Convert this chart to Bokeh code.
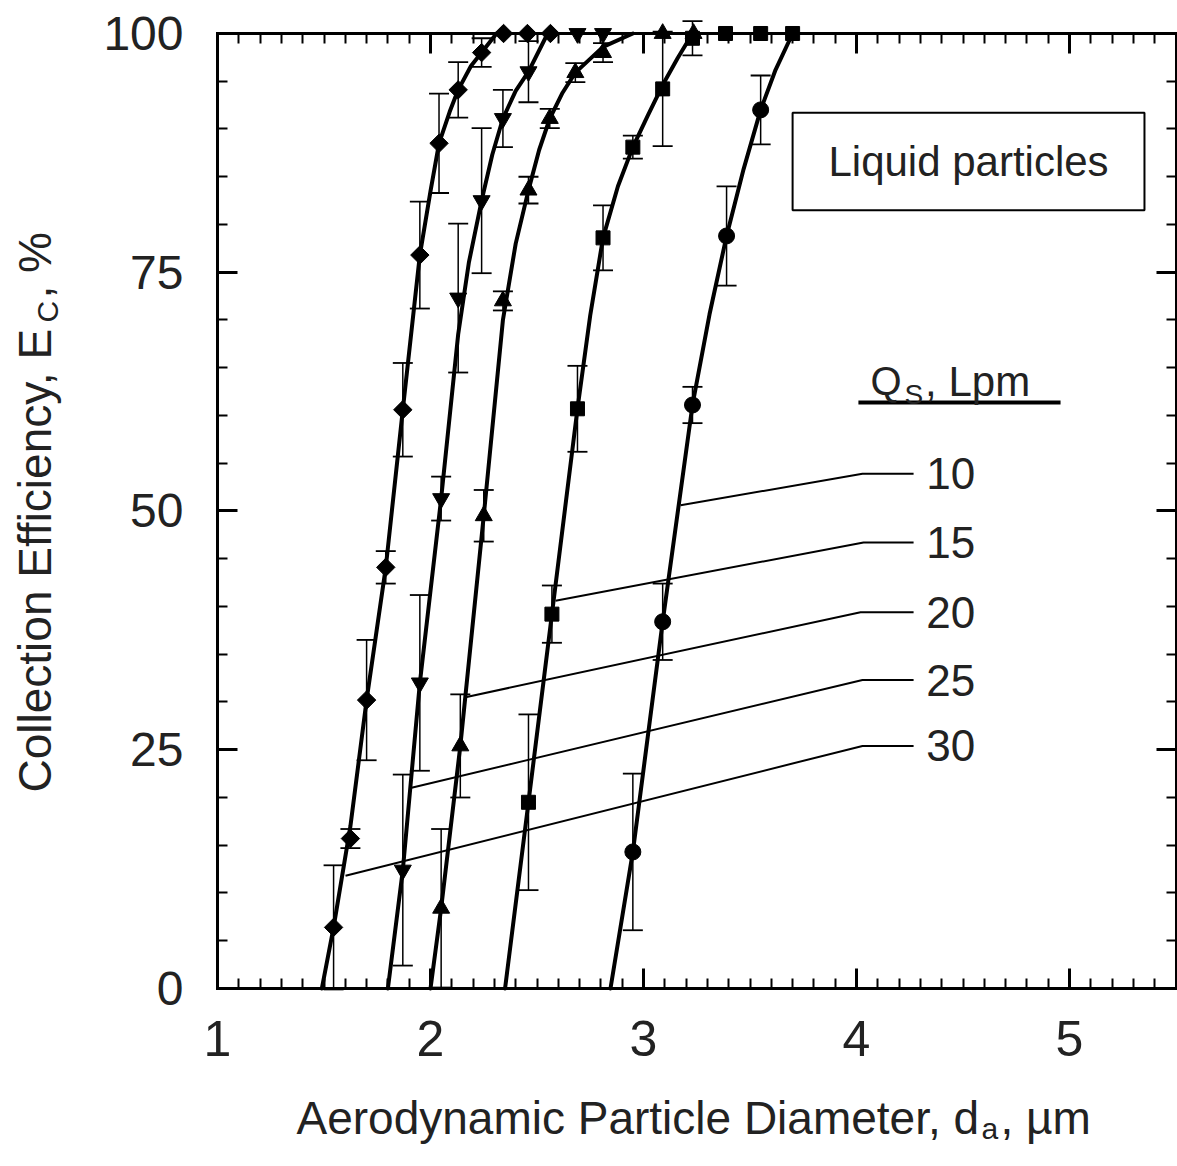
import math
from bokeh.plotting import figure
from bokeh.models import (LinearAxis, SingleIntervalTicker, ColumnDataSource, Whisker,
                          TeeHead, Label, Range1d, CustomJSTickFormatter)
from bokeh.embed import file_html
from bokeh.resources import INLINE

# ---------------- data ----------------
# Q = 30 Lpm (diamonds)
q30_x = [1.545, 1.624, 1.70, 1.79, 1.87, 1.95, 2.04, 2.13, 2.24, 2.343, 2.455, 2.563]
q30_y = [6.4, 15.7, 30.2, 44.1, 60.6, 76.8, 88.5, 94.1, 98.0, 100, 100, 100]
q30_e = [6.5, 1.0, 6.3, 1.7, 4.9, 5.6, 5.2, 2.9, 1.5, 0, 0, 0]
q30_cx = [1.49, 1.545, 1.624, 1.70, 1.79, 1.87, 1.95, 2.00, 2.04, 2.09, 2.13, 2.19, 2.24, 2.31]
q30_cy = [0, 6.4, 17.0, 30.2, 44.1, 60.6, 76.8, 83.5, 88.5, 91.8, 94.1, 96.6, 98.0, 100]

# Q = 25 Lpm (down triangles)
q25_x = [1.87, 1.95, 2.05, 2.13, 2.24, 2.34, 2.46, 2.69, 2.81]
q25_y = [12.4, 32.0, 51.3, 72.3, 82.5, 91.1, 96.0, 100, 100]
q25_e = [10.0, 9.2, 2.3, 7.8, 7.6, 3.0, 3.2, 0, 0]
q25_cx = [1.80, 1.87, 1.95, 2.05, 2.13, 2.18, 2.24, 2.29, 2.34, 2.40, 2.46, 2.55]
q25_cy = [0, 12.4, 32.0, 51.3, 68.5, 76.0, 82.5, 87.3, 91.1, 94.0, 96.0, 100]

# Q = 20 Lpm (up triangles)
q20_x = [2.05, 2.14, 2.25, 2.34, 2.46, 2.56, 2.68, 2.81, 3.09, 3.235]
q20_y = [8.4, 25.4, 49.5, 72.0, 83.6, 91.1, 95.9, 98.0, 100, 100]
q20_e = [8.3, 5.4, 2.7, 1.0, 1.4, 1.0, 1.0, 1.0, 0, 0]
q20_cx = [2.00, 2.05, 2.14, 2.25, 2.34, 2.40, 2.46, 2.51, 2.56, 2.62, 2.68, 2.81, 2.95]
q20_cy = [0, 8.4, 25.4, 49.5, 70.0, 78.0, 83.6, 87.8, 91.1, 93.8, 95.9, 98.6, 100]

# Q = 15 Lpm (squares)
q15_x = [2.46, 2.57, 2.69, 2.81, 2.95, 3.09, 3.23, 3.385, 3.55, 3.70]
q15_y = [19.5, 39.2, 60.7, 78.6, 88.1, 94.2, 99.5, 100, 100, 100]
q15_e = [9.2, 3.0, 4.5, 3.4, 1.2, 6.0, 1.8, 0, 0, 0]
q15_cx = [2.35, 2.46, 2.57, 2.69, 2.75, 2.81, 2.88, 2.95, 3.02, 3.09, 3.16, 3.23]
q15_cy = [0, 19.5, 39.2, 60.7, 70.5, 78.6, 84.0, 88.1, 91.4, 94.6, 97.4, 100]

# Q = 10 Lpm (circles)
q10_x = [2.95, 3.09, 3.23, 3.39, 3.55]
q10_y = [14.3, 38.4, 61.1, 78.8, 92.0]
q10_e = [8.2, 4.0, 1.9, 5.2, 3.6]
q10_cx = [2.845, 2.95, 3.09, 3.23, 3.31, 3.39, 3.47, 3.55, 3.62, 3.70]
q10_cy = [0, 14.3, 38.4, 61.1, 70.6, 78.8, 85.8, 92.0, 96.2, 100]

flow_labels = ["10", "15", "20", "25", "30"]
# leader lines: start on curve -> knee -> end at label
lead_x0 = [3.174, 2.587, 2.164, 1.906, 1.601]
lead_y0 = [50.6, 40.6, 30.5, 21.0, 11.8]
lead_xk = [4.028, 4.033, 4.019, 4.028, 4.028]
lead_yk = [53.9, 46.7, 39.4, 32.3, 25.4]
lead_x1 = 4.268

X_MIN, X_MAX = 1.0, 5.5
Y_MIN, Y_MAX = 0.0, 100.0

# ---------------- figure ----------------
# the frame spans the whole canvas; the four axes sit at fixed data locations
p = figure(x_range=Range1d(-0.01878, 5.50704), y_range=Range1d(-18.639, 103.455),
           frame_width=1177, frame_height=1166, min_border=0,
           x_axis_type=None, y_axis_type=None,
           output_backend="svg", toolbar_location=None,
           background_fill_color="white", border_fill_color="white")
p.grid.visible = False
p.outline_line_color = None

xt = SingleIntervalTicker(interval=1, num_minor_ticks=10)
yt = SingleIntervalTicker(interval=25, num_minor_ticks=5)

bottom_ax = LinearAxis(ticker=xt, fixed_location=Y_MIN, bounds=(X_MIN, X_MAX))
top_ax = LinearAxis(ticker=xt, fixed_location=Y_MAX, bounds=(X_MIN, X_MAX),
                    formatter=CustomJSTickFormatter(code="return ''"))
left_ax = LinearAxis(ticker=yt, fixed_location=X_MIN, bounds=(Y_MIN, Y_MAX))
right_ax = LinearAxis(ticker=yt, fixed_location=X_MAX, bounds=(Y_MIN, Y_MAX),
                      formatter=CustomJSTickFormatter(code="return ''"))
p.add_layout(bottom_ax, "below")
p.add_layout(top_ax, "above")
p.add_layout(left_ax, "left")
p.add_layout(right_ax, "right")

for ax in [bottom_ax, left_ax, top_ax, right_ax]:
    ax.axis_line_width = 3
    ax.axis_line_color = "black"
    ax.axis_line_cap = "square"
    ax.major_tick_in = 20
    ax.major_tick_out = 0
    ax.minor_tick_in = 10
    ax.minor_tick_out = 0
    ax.major_tick_line_width = 3
    ax.minor_tick_line_width = 2
    ax.major_tick_line_color = "black"
    ax.minor_tick_line_color = "black"
    ax.major_label_text_font = "Liberation Sans"
    ax.major_label_text_color = "#222222"

bottom_ax.major_label_text_font_size = "50px"
bottom_ax.major_label_standoff = 33
left_ax.major_label_text_font_size = "48px"
left_ax.major_label_standoff = 34

# ---------------- curves, markers, error bars ----------------
series = [
    (q30_x, q30_y, q30_e, q30_cx, q30_cy, "square", math.pi / 4, 13),
    (q25_x, q25_y, q25_e, q25_cx, q25_cy, "inverted_triangle", 0, 17),
    (q20_x, q20_y, q20_e, q20_cx, q20_cy, "triangle", 0, 17),
    (q15_x, q15_y, q15_e, q15_cx, q15_cy, "square", 0, 14),
    (q10_x, q10_y, q10_e, q10_cx, q10_cy, "circle", 0, 16),
]

for xs, ys, es, cx, cy, mk, ang, sz in series:
    ex = [x for x, e in zip(xs, es) if e > 0]
    eu = [y + e for y, e in zip(ys, es) if e > 0]
    el = [y - e for y, e in zip(ys, es) if e > 0]
    src = ColumnDataSource(dict(x=ex, upper=eu, lower=el))
    w = Whisker(source=src, base="x", upper="upper", lower="lower", dimension="height",
                line_color="black", line_width=1.5,
                upper_head=TeeHead(size=20, line_color="black", line_width=1.8),
                lower_head=TeeHead(size=20, line_color="black", line_width=1.8))
    p.add_layout(w)
    p.line(cx, cy, line_color="black", line_width=4, line_join="round", line_cap="round")
    p.scatter(xs, ys, marker=mk, angle=ang, size=sz, fill_color="black", line_color="black")

# ---------------- leader lines and flow labels ----------------
for lab, x0, y0, xk, yk in zip(flow_labels, lead_x0, lead_y0, lead_xk, lead_yk):
    p.line([x0, xk, lead_x1], [y0, yk, yk], line_color="black", line_width=2)
    p.add_layout(Label(x=lead_x1 + 0.06, y=yk, text=lab, text_font="Liberation Sans",
                       text_font_size="44px", text_color="#222222",
                       text_align="left", text_baseline="middle"))

# Q_S, Lpm heading
p.add_layout(Label(x=4.066, y=63.6, text="Q", text_font="Liberation Sans", text_font_size="40px",
                   text_color="#222222", text_align="left", text_baseline="alphabetic"))
p.add_layout(Label(x=4.225, y=62.2, text="S", text_font="Liberation Sans", text_font_size="28px",
                   text_color="#222222", text_align="left", text_baseline="alphabetic"))
p.add_layout(Label(x=4.322, y=63.6, text=", Lpm", text_font="Liberation Sans", text_font_size="42px",
                   text_color="#222222", text_align="left", text_baseline="alphabetic"))
p.line([4.009, 4.958], [61.36, 61.36], line_color="black", line_width=4)

# Liquid particles box
p.quad(left=[3.70], right=[5.352], bottom=[81.5], top=[91.7],
       fill_color="white", line_color="black", line_width=2)
p.add_layout(Label(x=4.526, y=86.6, text="Liquid particles", text_font="Liberation Sans",
                   text_font_size="42px", text_color="#222222",
                   text_align="center", text_baseline="middle"))

# ---------------- axis titles (with subscripts) ----------------
def title_part(x, y, txt, size, angle=0.0, baseline="alphabetic"):
    p.add_layout(Label(x=x, y=y, text=txt, angle=angle,
                       text_font="Liberation Sans", text_font_size=size, text_color="#222222",
                       text_align="left", text_baseline=baseline))

title_part(1.3709, -13.51, "Aerodynamic Particle Diameter, d", "46px")
title_part(4.5869, -14.66, "a", "30px")
title_part(4.676, -13.51, ", \u00b5m", "46px")

title_part(0.1455, 20.52, "Collection Efficiency, E", "46px", math.pi / 2, "middle")
title_part(0.2019, 69.74, "C", "30px", math.pi / 2, "middle")
title_part(0.1455, 72.25, " , %", "46px", math.pi / 2, "middle")

open("out.html", "w").write(file_html(p, INLINE))
